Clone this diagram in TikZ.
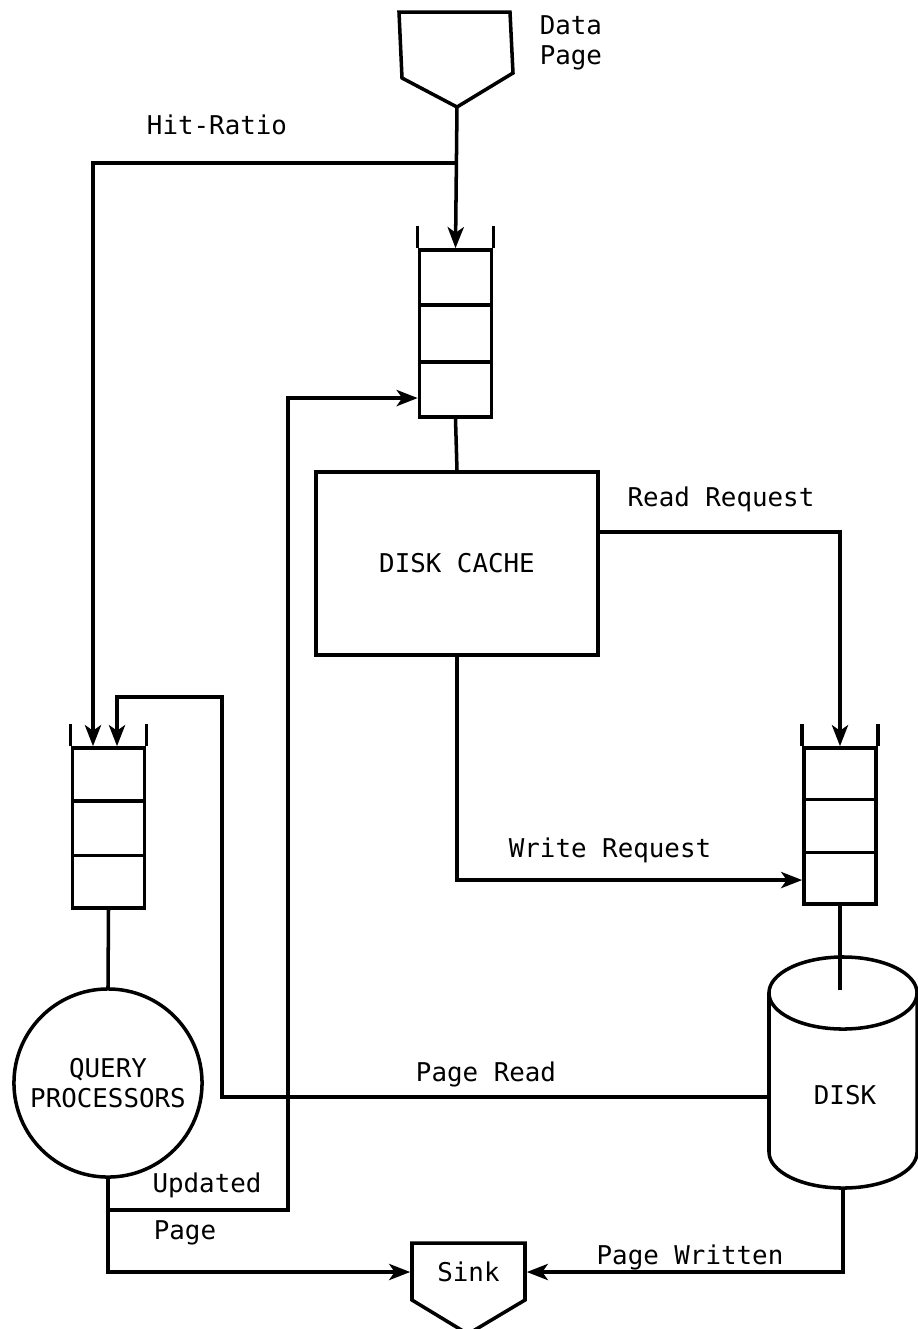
\documentclass[tikz,border=0pt]{standalone}
\usepackage{fontspec}
\newfontfamily\lbl{DejaVu Sans Mono}
\usetikzlibrary{arrows.meta,calc}
\tikzset{
  flow/.style={-{Stealth[length=6pt,width=4.6pt,inset=1.6pt]}},
  queue/.style={draw,minimum width=0.72cm},
  txt/.style={font=\lbl\fontsize{7.35}{8.6}\selectfont,inner sep=0pt}
}
\begin{document}
\begin{tikzpicture}[x=0.01cm,y=-0.01cm,line width=1pt,every node/.style={txt}]
\useasboundingbox (0,0) rectangle (917,1329);

\draw (399,12) -- (510,12) -- (513,73) -- (457,107) -- (402,78) -- cycle;
\coordinate (srctip) at (457,107);
\coordinate (hit) at (457,163);
\node[align=left,anchor=west] (datalbl) at (538,43) {Data\\Page};

\node[queue,minimum height=1.67cm] (topq) at (455.5,333.5) {};
\node[queue,minimum height=1.60cm] (leftq) at (108.5,828) {};
\node[queue,minimum height=1.56cm] (rightq) at (840,826) {};
\foreach \q in {topq,leftq,rightq} {
  \draw (\q.north west) -- ++(0,-22);
  \draw (\q.north east) -- ++(0,-22);
  \draw ($(\q.north west)!1/3!(\q.south west)$) -- ($(\q.north east)!1/3!(\q.south east)$);
  \draw ($(\q.north west)!2/3!(\q.south west)$) -- ($(\q.north east)!2/3!(\q.south east)$);
}

\node[draw,minimum width=2.82cm,minimum height=1.83cm] (cache) at (457,563.5) {DISK CACHE};
\node[draw,circle,minimum size=1.88cm,align=center] (qp) at (108,1083) {QUERY\\PROCESSORS};

\draw (843,993) ellipse [x radius=0.74cm,y radius=0.36cm];
\draw (769,993) -- (769,1152) arc[start angle=180,end angle=360,x radius=0.74cm,y radius=0.36cm] -- (917,993);
\node (disk) at (845,1095) {DISK};
\coordinate (disktop) at (840,990);
\coordinate (diskw) at (769,1097);
\coordinate (diskb) at (843,1188);

\draw (412,1243) -- (525,1243) -- (525,1300) -- (468,1334) -- (412,1300) -- cycle;
\node[minimum width=1.13cm] (sink) at (468.5,1272) {Sink};

\draw[flow] (srctip) -- (topq.north);
\draw[flow] (hit) -| ([xshift=-0.155cm]leftq.north);
\draw (topq.south) -- (cache.north);
\draw[flow] ([yshift=0.315cm]cache.east) -| (rightq.north);
\draw[flow] (cache.south) |- ([yshift=-0.54cm]rightq.west);
\draw (rightq.south) -- (disktop);
\draw[flow] (diskw) -| (222,697) -| ([xshift=0.085cm]leftq.north);
\draw (leftq.south) -- (qp.north);
\draw[flow] (qp.south) |- (sink.west);
\coordinate (upd) at (108,1210);
\draw[flow] (upd) -- (288,1210) |- ([yshift=-0.645cm]topq.west);
\draw[flow] (diskb) |- (sink.east);

\node (hitlbl) at (217,125) {Hit-Ratio};
\node (readlbl) at (721,499) {Read Request};
\node (writelbl) at (610,850) {Write Request};
\node (pagereadlbl) at (486,1074) {Page Read};
\node (updlbl) at (207,1185) {Updated};
\node (pagelbl) at (185,1233) {Page};
\node (writtenlbl) at (690,1257) {Page Written};
\end{tikzpicture}
\end{document}
